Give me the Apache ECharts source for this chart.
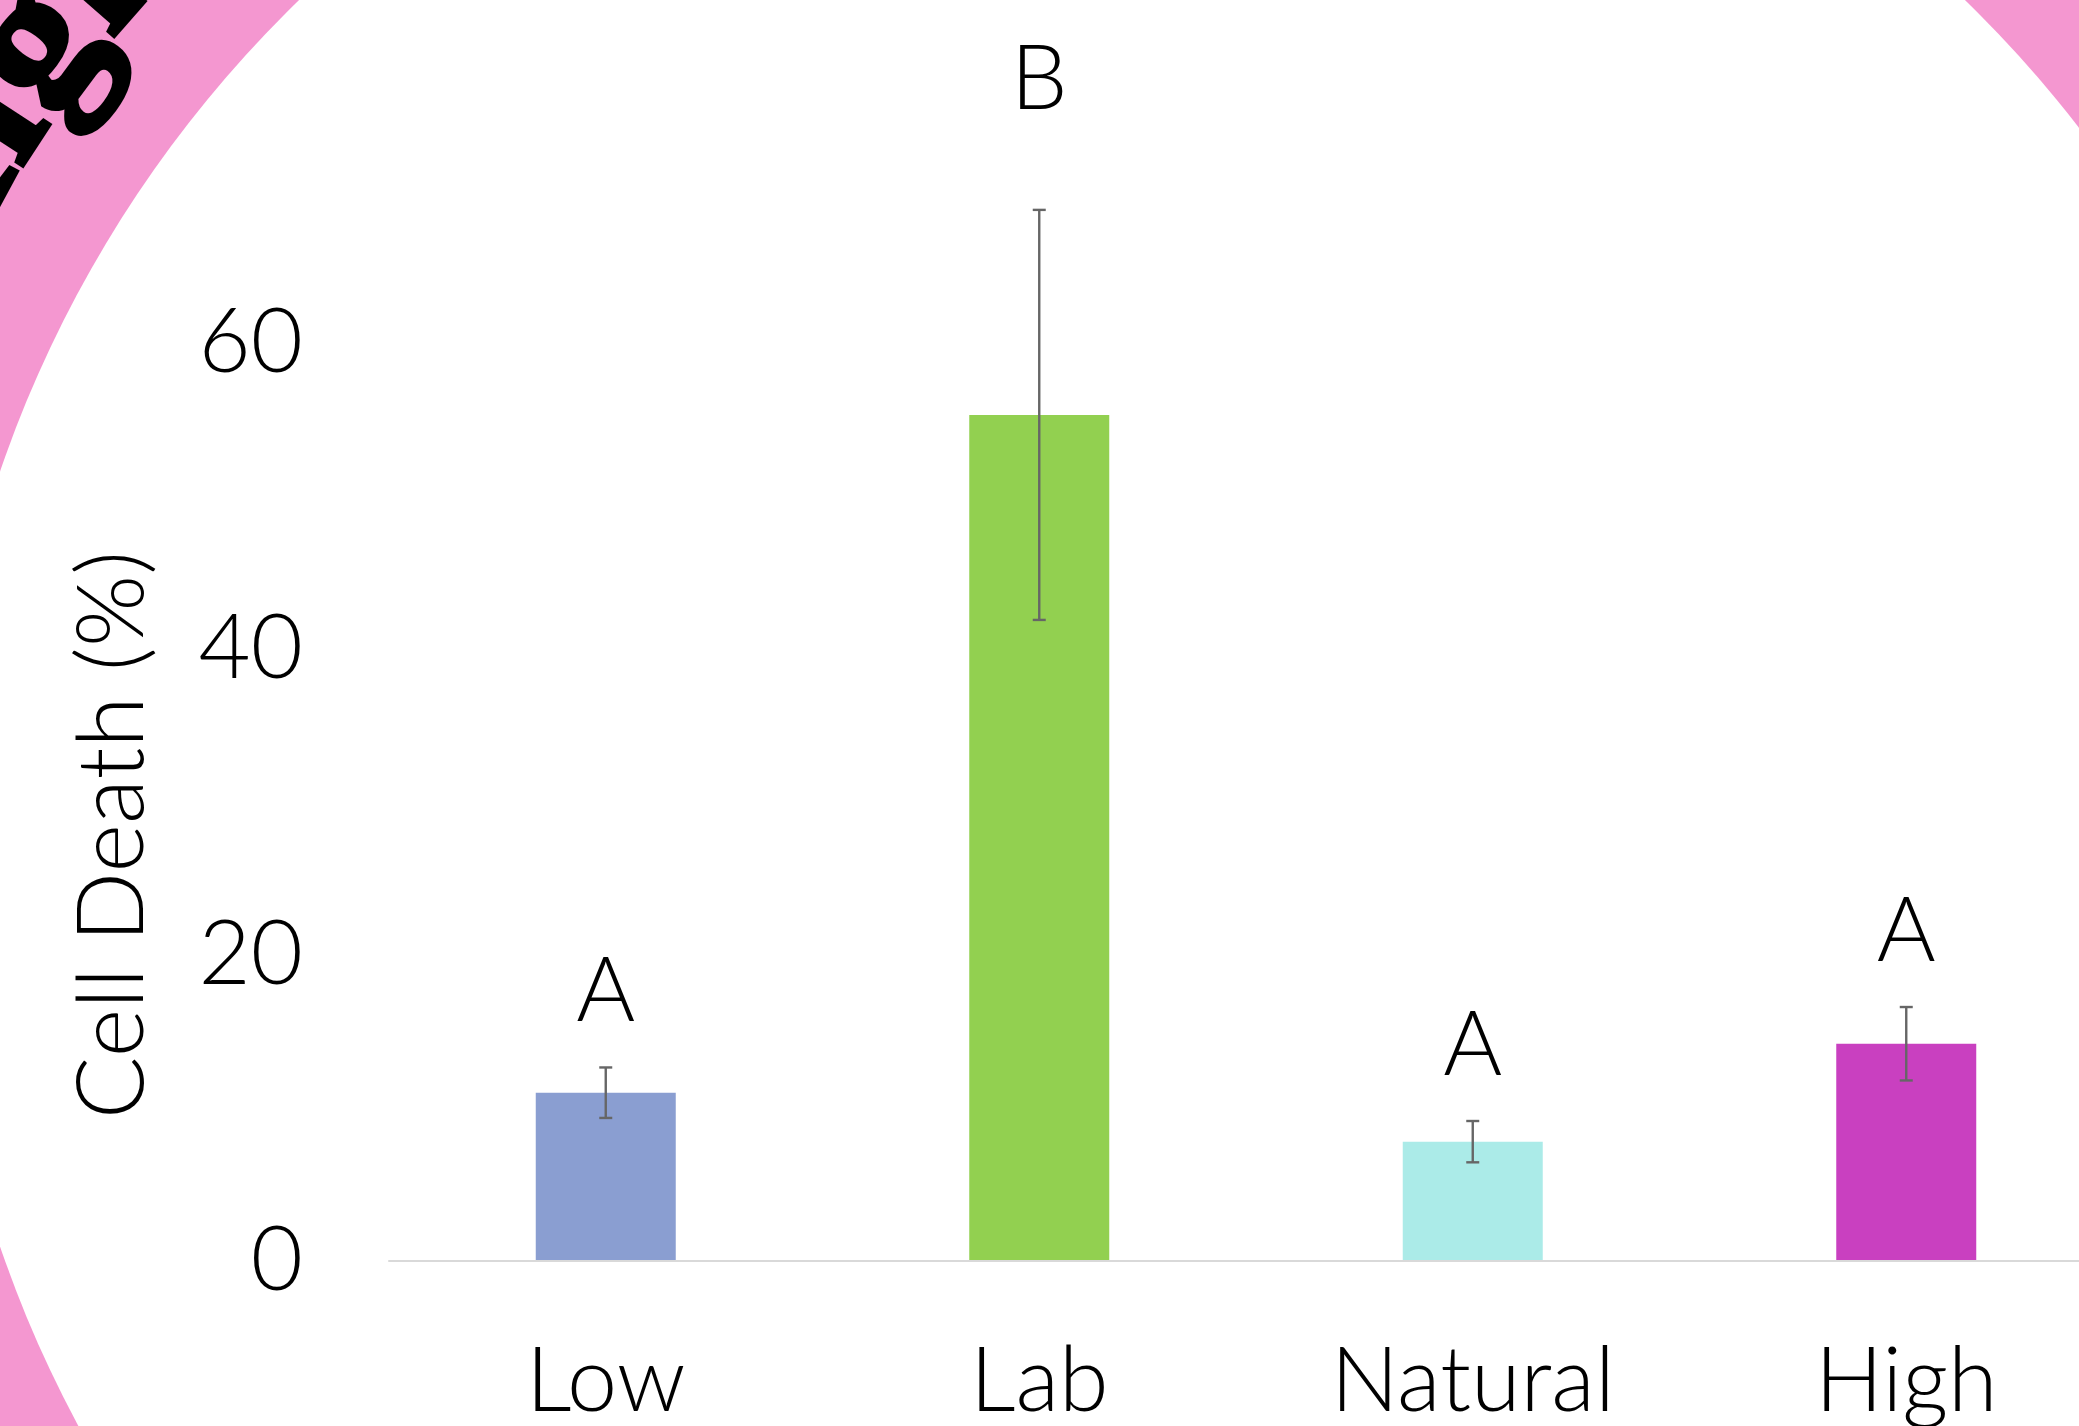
<!DOCTYPE html>
<html>
<head>
<meta charset="utf-8">
<title>Cell Death (%)</title>
<script src="https://cdn.jsdelivr.net/npm/echarts@6.0.0/dist/echarts.min.js"></script>
<style>
  html, body { margin: 0; padding: 0; background: #ffffff; }
  #chart { width: 2079px; height: 1426px; }
</style>
</head>
<body>
<div id="chart"></div>
<script>
// ---- data ----
const categories = ['Low', 'Lab', 'Natural', 'High'];
const cellDeath = [11.0, 55.3, 7.8, 14.2];      // mean cell death, %
const errorSD = [1.65, 13.4, 1.35, 2.4];         // error bar half-length, %
const groupLetters = ['A', 'B', 'A', 'A'];       // significance groups
const yTicks = [0, 20, 40, 60];
const ringWord = 'High';

// ---- styles ----
const W = 2079, H = 1426;
const barColors = ['#8A9ED1', '#92D050', '#ABEBE8', '#C940C0'];
const pink = '#F497D0';
const labelFont = 'Lato, "Open Sans", "Noto Sans", sans-serif';
const labelSize = 90;
const letterGap = 30;            // px between error-bar cap and letter box
const letterLift = [0, 55, 0, 0];
const ring = { cx: 1132, cy: 859, r: 1196.5, baseline: 1294, fontSize: 200, anchorDeg: -143.5 };

const chart = echarts.init(document.getElementById('chart'), null, { renderer: 'canvas', width: W, height: H });

// Letters of the word around the pink ring, each rotated to follow the arc
function ringText() {
  const ctx = document.createElement('canvas').getContext('2d');
  const font = 'bold ' + ring.fontSize + 'px "Liberation Serif", "DejaVu Serif", serif';
  ctx.font = font;
  const chars = ringWord.split('');
  const widths = chars.map(c => ctx.measureText(c).width);
  const centers = [];
  let acc = 0;
  widths.forEach(w => { centers.push(acc + w / 2); acc += w; });
  // the 'g' sits at the anchor angle
  const anchorIdx = chars.indexOf('g');
  const anchor = ring.anchorDeg * Math.PI / 180;
  const rMid = ring.baseline + 0.33 * ring.fontSize;
  return chars.map((c, i) => {
    const th = anchor + (centers[i] - centers[anchorIdx]) / ring.baseline;
    return {
      type: 'text',
      x: ring.cx + rMid * Math.cos(th),
      y: ring.cy + rMid * Math.sin(th),
      rotation: -(th + Math.PI / 2),
      z: -8,
      style: {
        text: c, font: font, fill: '#000', stroke: '#000', lineWidth: 5,
        align: 'center', verticalAlign: 'middle'
      }
    };
  });
}

function renderErrorAndLetter(params, api) {
  const i = params.dataIndex;
  const x = api.value(0), mean = api.value(1), sd = api.value(2);
  const top = api.coord([x, mean + sd]);
  const bot = api.coord([x, mean - sd]);
  const cap = 6.5;
  const lineStyle = { stroke: '#666666', lineWidth: 2.4 };
  return {
    type: 'group',
    children: [
      { type: 'line', shape: { x1: top[0], y1: top[1], x2: bot[0], y2: bot[1] }, style: lineStyle },
      { type: 'line', shape: { x1: top[0] - cap, y1: top[1], x2: top[0] + cap, y2: top[1] }, style: lineStyle },
      { type: 'line', shape: { x1: bot[0] - cap, y1: bot[1], x2: bot[0] + cap, y2: bot[1] }, style: lineStyle },
      {
        type: 'text',
        x: top[0], y: top[1] - letterGap - letterLift[i],
        style: {
          text: groupLetters[i], fill: '#000', align: 'center', verticalAlign: 'bottom',
          fontSize: labelSize, fontFamily: labelFont, fontWeight: 300
        }
      }
    ]
  };
}

const option = {
  animation: false,
  backgroundColor: '#ffffff',
  graphic: {
    elements: [
      { type: 'rect', z: -10, shape: { x: 0, y: 0, width: W, height: H }, style: { fill: pink } },
      { type: 'circle', z: -9, shape: { cx: ring.cx, cy: ring.cy, r: ring.r }, style: { fill: '#ffffff' } }
    ].concat(ringText())
  },
  grid: { left: 389, top: 343, bottom: 165, width: 1734, containLabel: false, outerBoundsMode: 'none' },
  xAxis: {
    type: 'category',
    z: 5,
    data: categories,
    axisLine: { show: true, lineStyle: { color: '#D9D9D9', width: 2 } },
    axisTick: { show: false },
    axisLabel: { fontSize: labelSize, fontFamily: labelFont, fontWeight: 300, color: '#000', margin: 76 }
  },
  yAxis: {
    type: 'value',
    z: 5,
    min: yTicks[0],
    max: yTicks[yTicks.length - 1],
    interval: yTicks[1] - yTicks[0],
    splitLine: { show: false },
    axisLine: { show: false },
    axisTick: { show: false },
    axisLabel: { fontSize: labelSize, fontFamily: labelFont, fontWeight: 300, color: '#000', margin: 86 },
    name: 'Cell Death (%)',
    nameLocation: 'middle',
    nameRotate: 90,
    nameGap: 230,
    nameTextStyle: {
      fontSize: 93, fontFamily: labelFont, fontWeight: 300, color: '#000',
      padding: [0, 66, 0, 0]
    }
  },
  series: [
    {
      type: 'bar',
      barWidth: 140,
      z: 2,
      data: cellDeath.map((v, i) => ({ value: v, itemStyle: { color: barColors[i] } }))
    },
    {
      type: 'custom',
      z: 3,
      clip: false,
      renderItem: renderErrorAndLetter,
      data: categories.map((c, i) => [i, cellDeath[i], errorSD[i]])
    }
  ]
};

chart.setOption(option);
</script>
</body>
</html>
